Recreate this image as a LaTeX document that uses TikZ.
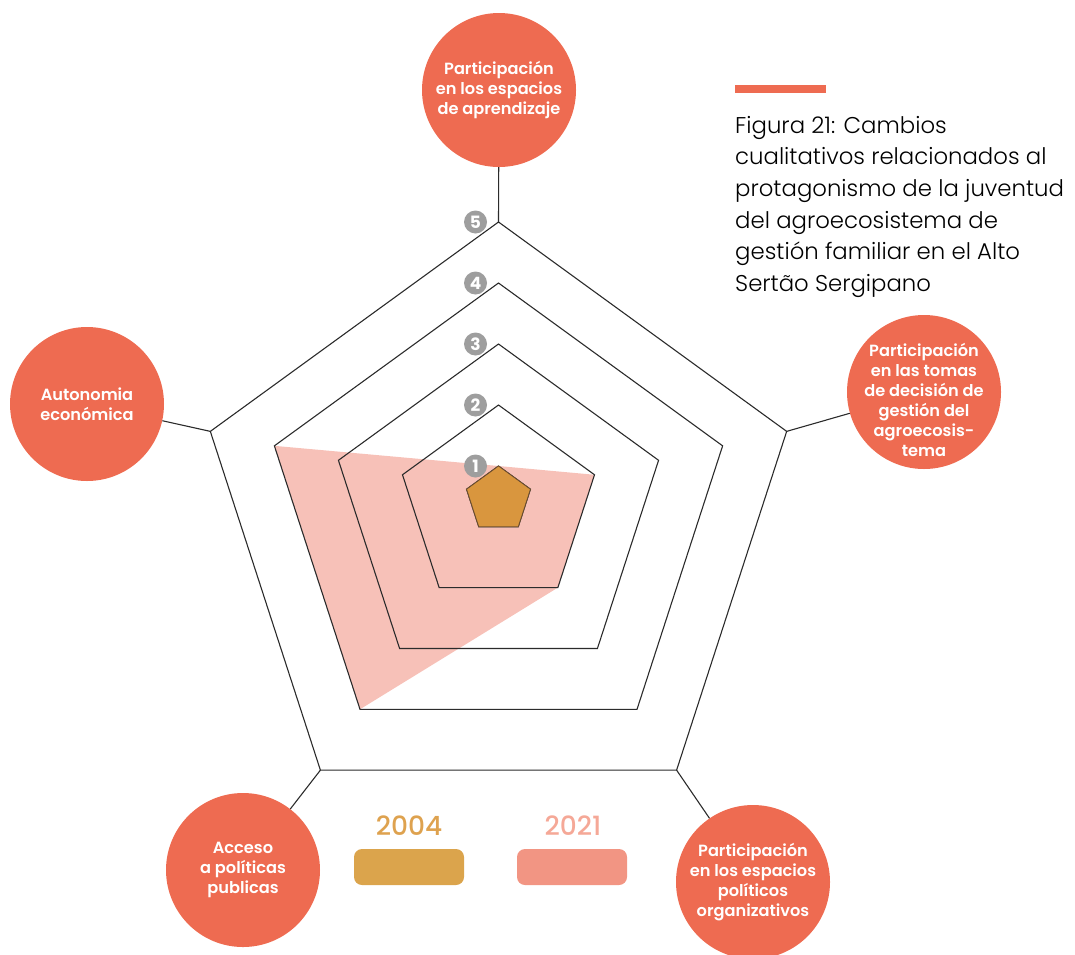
\documentclass[tikz,border=0pt]{standalone}
\usepackage{fontspec}
\setmainfont{Poppins}
\IfFontExistsTF{Poppins Light}{\newfontfamily\titlefont{Poppins Light}}{\newfontfamily\titlefont{Poppins}}
\IfFontExistsTF{Poppins SemiBold}{\newfontfamily\bubblefont{Poppins SemiBold}}{\newcommand\bubblefont{\bfseries}}
\IfFontExistsTF{Poppins Medium}{\newfontfamily\yearfont{Poppins Medium}}{\newcommand\yearfont{\bfseries}}
\definecolor{bubblered}{HTML}{EE6B51}
\definecolor{gridline}{HTML}{2B2B2B}
\definecolor{fill21}{HTML}{F7C1B8}
\definecolor{fill04}{HTML}{D9963E}
\definecolor{edge04}{HTML}{6E4E2E}
\definecolor{markgrey}{HTML}{9E9E9E}
\definecolor{text04}{HTML}{DEA24F}
\definecolor{bar04}{HTML}{DBA44C}
\definecolor{text21}{HTML}{F5A897}
\definecolor{bar21}{HTML}{F29583}

\begin{document}
\begin{tikzpicture}[x=1pt,y=-1pt,grid/.style={draw=gridline,line width=1.1pt},bubble/.style={circle,fill=bubblered,minimum size=154pt,inner sep=0pt,text=white,align=center,font=\bubblefont\fontsize{16.2}{20}\selectfont},bubble text/.style={text=white,align=center,font=\bubblefont\fontsize{16.2}{20}\selectfont},marker/.style={circle,fill=markgrey,minimum size=23pt,inner sep=0pt,text=white,font=\bfseries\fontsize{17}{17}\selectfont},year/.style={font=\yearfont\fontsize{26.5}{30}\selectfont},bar/.style={rounded corners=8pt,minimum width=110pt,minimum height=36pt,inner sep=0pt}]
    \useasboundingbox (0,0) rectangle (1075,954);

    \foreach \k in {1,...,5} {
        \pgfmathsetmacro\rad{33.6+67.35*(\k-1)}
        \pgfmathsetmacro\cy{466-61*(\k-1)+\rad}
        \foreach \i in {0,...,4}
            \coordinate (p\k-\i) at ({498.5+\rad*cos(90+72*\i)},{\cy-\rad*sin(90+72*\i)});
    }

    \fill[fill21] (p1-0) -- (p4-1) -- (p4-2) -- (p2-3) -- (p2-4) -- cycle;
    \foreach \k in {1,...,5}
        \draw[grid] (p\k-0) -- (p\k-1) -- (p\k-2) -- (p\k-3) -- (p\k-4) -- cycle;
    \filldraw[fill=fill04,draw=edge04,line width=0.8pt] (p1-0) -- (p1-1) -- (p1-2) -- (p1-3) -- (p1-4) -- cycle;

    \node[bubble] (learn) at (499,90) {Participación\\en los espacios\\de aprendizaje};
    \node[bubble] (autonomy) at (87,404) {Autonomia\\económica};
    \node[bubble] (policy) at (243,870) {Acceso\\a políticas\\publicas};
    \node[bubble] (organize) at (753,882) {Participación\\en los espacios\\políticos\\organizativos};
    \node[bubble] (decide) at (924,392) {};
    \node[bubble text] at ([yshift=-8pt]decide.center) {Participación\\en las tomas\\de decisión de\\gestión del\\agroecosis-\\tema};

    \draw[grid]
        (p5-0) -- (learn)
        (p5-1) -- (autonomy)
        (p5-2) -- (policy)
        (p5-3) -- (organize)
        (p5-4) -- (decide)
        ;

    \foreach \k in {1,...,5}
        \node[marker] (lvl\k) at (475.5,{466-61*(\k-1)}) {\k};

    \node[year,text=text04] (y04) at (409,826) {2004};
    \node[bar,fill=bar04] (b04) at (409,867) {};
    \node[year,text=text21] (y21) at (573,826) {2021};
    \node[bar,fill=bar21] (b21) at (572,867) {};

    \fill[bubblered] (735,85) rectangle (826,93);
    \node[anchor=north west,inner sep=0pt,align=left,font=\titlefont\fontsize{22.8}{31.6}\selectfont] (caption) at (735,116) {Figura 21: Cambios\\cualitativos relacionados al\\protagonismo de la juventud\\del agroecosistema de\\gestión familiar en el Alto\\Sertão Sergipano};
\end{tikzpicture}
\end{document}
